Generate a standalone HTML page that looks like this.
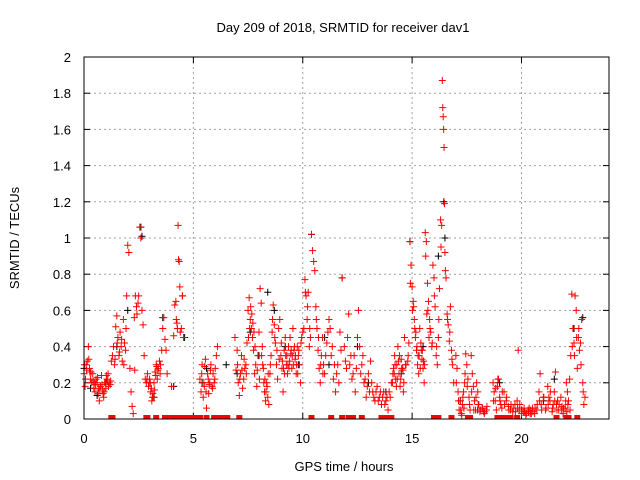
<!DOCTYPE html>
<html><head><meta charset="utf-8"><style>
body{margin:0;background:#fff}
svg{display:block;font-family:"Liberation Sans",sans-serif}
</style></head><body>
<svg id="chart" width="640" height="480" viewBox="0 0 640 480">
<text x="343" y="32" font-size="13" text-anchor="middle" fill="#000">Day 209 of 2018, SRMTID for receiver dav1</text>
<text x="344" y="471" font-size="13" text-anchor="middle" fill="#000">GPS time / hours</text>
<text transform="translate(19,238) rotate(-90)" font-size="13" text-anchor="middle" fill="#000">SRMTID / TECUs</text>
<g id="grid"></g>
<g id="ticks"></g>
<g id="black"></g>
<g id="red"></g>
<rect x="84" y="57" width="525" height="362" fill="none" stroke="#000" stroke-width="1"/>
</svg>
<script>
const xTicks=[0,5,10,15,20];
const yTicks=[0,0.2,0.4,0.6,0.8,1,1.2,1.4,1.6,1.8,2];
const yTickLabels=["0","0.2","0.4","0.6","0.8","1","1.2","1.4","1.6","1.8","2"];
const redT=[0,0.05,0.1,0.15,0.2,0.25,0.3,0.35,0.4,0.45,0.5,0.55,0.6,0.65,0.7,0.75,0.8,0.85,0.9,0.95,1.0,1.05,1.1,1.15,1.2,1.25,
1.3,1.35,1.4,1.45,1.5,1.55,1.6,1.65,1.7,1.75,1.8,1.85,1.9,1.95,2.0,2.05,2.1,2.15,2.2,2.25,2.3,2.35,2.4,2.5,2.55,2.6,2.65,2.7,2.75,2.8,
2.85,2.9,2.95,3.0,3.05,3.1,3.15,3.2,3.25,3.3,3.35,3.4,3.45,3.5,3.55,3.6,3.65,3.7,3.75,3.8,
4.0,4.1,4.15,4.2,4.25,4.3,4.32,4.35,4.38,4.4,4.45,4.5,4.55,
5.3,5.35,5.4,5.45,5.5,5.55,5.6,5.65,5.7,5.75,5.8,5.85,5.9,5.95,6.0,6.05,6.1,
6.9,6.95,7.0,7.05,7.1,7.15,7.2,7.25,7.3,7.35,7.4,7.45,7.5,7.55,7.6,7.65,7.7,7.75,7.8,7.85,7.9,7.95,8.0,8.05,8.1,8.15,8.2,8.25,8.3,8.35,8.4,8.45,8.5,8.55,8.6,8.65,8.7,8.75,8.8,8.85,8.9,8.95,9.0,9.05,9.1,9.15,9.2,9.25,9.3,9.35,9.4,9.45,9.5,9.55,9.6,9.65,9.7,9.75,9.8,9.85,9.9,9.95,10.0,10.05,
10.1,10.15,10.2,10.25,10.3,10.35,10.4,10.45,10.5,10.55,10.6,10.65,10.7,10.75,10.8,10.85,10.9,10.95,11.0,11.1,11.2,11.25,11.3,11.4,11.5,11.6,11.7,11.8,11.9,12.0,12.1,12.2,12.3,12.4,12.5,12.55,12.6,12.7,12.8,12.9,13.0,13.1,13.2,13.3,13.4,13.5,13.6,13.7,13.8,13.9,14.0,14.1,14.15,14.2,14.25,14.3,14.35,14.4,14.45,14.5,14.55,14.6,14.65,14.7,
14.8,14.85,14.9,14.95,15.0,15.05,15.1,15.15,15.2,15.25,15.3,15.35,15.4,15.45,15.5,15.55,15.6,15.65,15.7,15.75,15.8,15.85,15.9,15.95,16.0,16.05,16.1,16.15,16.2,16.25,16.3,16.35,16.38,16.4,16.42,16.44,16.46,16.48,16.5,16.55,16.6,16.65,16.7,16.75,16.8,16.85,
16.9,17.0,17.05,17.1,17.15,17.2,17.25,17.3,17.35,17.4,17.45,17.5,17.55,17.6,17.65,17.7,17.75,17.8,17.85,17.9,17.95,18.0,18.05,18.1,18.2,18.3,18.4,
18.7,18.75,18.8,18.85,18.9,18.95,19.0,19.05,19.1,19.2,19.3,19.4,19.5,19.6,19.7,19.8,19.85,19.9,20.0,20.1,20.2,20.3,20.4,20.5,20.6,
20.7,20.8,20.85,20.9,21.0,21.1,21.2,21.3,21.4,21.5,21.55,21.6,21.7,21.8,21.9,22.0,22.05,22.1,22.15,22.2,22.25,22.3,22.35,22.4,22.45,22.5,22.55,22.6,22.65,22.7,22.75,22.8,22.85,22.9];
const redV=[0.25,0.18,0.3,0.32,0.4,0.28,0.22,0.2,0.25,0.17,0.15,0.22,0.2,0.14,0.1,0.18,0.24,0.16,0.12,0.2,0.17,0.22,0.25,0.2,0.19,0.32,
0.35,0.4,0.3,0.51,0.57,0.45,0.35,0.48,0.4,0.32,0.55,0.42,0.38,0.68,0.96,0.92,0.28,0.15,0.07,0.03,0.56,0.68,0.62,0.68,1.06,1.0,0.6,0.52,0.35,0.22,
0.2,0.25,0.18,0.22,0.15,0.1,0.14,0.2,0.26,0.3,0.22,0.28,0.32,0.3,0.38,0.5,0.56,0.44,0.38,0.25,
0.18,0.46,0.63,0.65,0.53,1.07,0.88,0.87,0.73,0.48,0.5,0.68,0.45,
0.22,0.15,0.3,0.12,0.18,0.33,0.06,0.25,0.14,0.2,0.3,0.18,0.25,0.2,0.28,0.35,0.4,
0.45,0.27,0.38,0.2,0.13,0.25,0.35,0.17,0.22,0.28,0.3,0.42,0.6,0.67,0.55,0.5,0.45,0.38,0.25,0.3,0.18,0.35,0.48,0.72,0.64,0.4,0.28,0.15,0.1,0.2,0.12,0.08,0.25,0.35,0.48,0.63,0.52,0.42,0.3,0.22,0.5,0.55,0.35,0.28,0.15,0.38,0.45,0.3,0.25,0.4,0.32,0.36,0.28,0.5,0.38,0.33,0.25,0.4,0.35,0.3,0.2,0.45,0.48,0.5,
0.77,0.68,0.55,0.7,0.4,0.45,1.02,0.93,0.87,0.82,0.62,0.5,0.38,0.28,0.2,0.35,0.45,0.3,0.25,0.42,0.55,0.5,0.35,0.22,0.15,0.3,0.48,0.78,0.4,0.28,0.58,0.35,0.25,0.15,0.45,0.6,0.4,0.3,0.2,0.12,0.25,0.32,0.15,0.1,0.18,0.12,0.08,0.15,0.1,0.05,0.12,0.2,0.28,0.35,0.22,0.3,0.4,0.25,0.18,0.33,0.28,0.15,0.45,0.3,
0.32,0.42,0.98,0.85,0.73,0.65,0.55,0.45,0.38,0.3,0.25,0.5,0.42,0.33,0.28,0.2,1.03,0.98,0.75,0.65,0.55,0.48,0.4,0.85,0.78,0.62,0.35,0.3,0.45,0.72,1.1,1.07,1.87,1.72,1.67,1.6,1.5,1.19,0.92,0.78,0.58,0.52,0.43,0.62,0.38,0.3,
0.2,0.35,0.28,0.15,0.05,0.1,0.03,0.08,0.15,0.2,0.36,0.3,0.22,0.12,0.05,0.35,0.25,0.18,0.1,0.05,0.2,0.15,0.08,0.04,0.06,0.03,0.05,
0.2,0.15,0.1,0.05,0.18,0.22,0.12,0.08,0.06,0.15,0.1,0.07,0.05,0.04,0.08,0.1,0.38,0.05,0.03,0.04,0.02,0.05,0.03,0.06,0.03,
0.05,0.15,0.25,0.08,0.12,0.05,0.18,0.1,0.04,0.15,0.26,0.08,0.05,0.12,0.03,0.06,0.2,0.15,0.1,0.22,0.35,0.69,0.5,0.42,0.68,0.6,0.28,0.45,0.38,0.42,0.55,0.2,0.08,0.12];
const redT2=[0.02,0.12,0.22,0.32,0.42,0.52,0.62,0.72,0.82,0.92,1.02,1.12,1.22,0.07,0.27,0.47,0.67,0.87,1.07,
1.42,1.52,1.62,1.72,1.82,1.92,2.32,2.42,2.47,2.88,2.98,3.08,3.18,3.28,3.38,3.48,3.03,3.13,3.23,3.33,4.22,4.27,5.38,5.48,5.58,5.68,5.78,5.88,5.98,5.52,5.72,
7.02,7.12,7.22,7.32,7.42,7.52,7.62,7.72,7.82,7.92,8.02,8.12,8.22,8.32,8.42,8.52,8.62,8.72,8.82,8.92,9.02,9.12,9.22,9.32,9.42,9.52,9.62,9.72,9.82,9.92,7.57,7.67,7.77,8.17,8.27,8.37,9.07,9.17,9.27,9.37,9.47,9.57,9.67,9.77,
10.12,10.22,10.32,10.62,10.72,10.82,10.92,11.05,11.15,11.35,11.45,11.55,11.65,11.75,11.95,12.05,12.15,12.25,12.35,12.45,12.65,12.75,12.85,12.95,13.05,13.15,13.25,13.35,13.45,13.55,13.65,13.75,13.85,13.95,14.05,14.12,14.22,14.32,14.42,14.52,14.62,14.72,14.18,14.28,14.38,14.48,14.58,
14.82,14.92,15.02,15.12,15.22,15.32,15.42,15.52,15.62,15.72,15.82,15.92,16.02,16.12,16.22,16.32,16.52,16.62,16.72,16.82,15.07,15.17,15.27,15.37,15.47,15.57,15.67,15.77,
17.02,17.12,17.22,17.32,17.42,17.52,17.62,17.72,17.82,17.92,18.02,18.12,18.22,18.32,18.42,17.27,17.37,18.27,
18.72,18.82,18.92,19.02,19.12,19.22,19.32,19.42,19.52,19.62,19.72,19.82,19.92,20.02,20.12,20.22,20.32,20.42,20.52,20.62,20.15,20.35,20.45,
20.72,20.82,20.92,21.02,21.12,21.22,21.32,21.42,21.52,21.62,21.72,21.82,21.92,22.02,22.12,22.22,22.32,22.42,22.52,22.62,22.72,22.82,21.25,21.45,21.65,21.85,22.07];
const redV2=[0.3,0.27,0.33,0.26,0.21,0.19,0.23,0.16,0.19,0.15,0.24,0.18,0.21,0.22,0.26,0.2,0.17,0.14,0.21,
0.33,0.42,0.37,0.44,0.3,0.5,0.27,0.58,0.64,0.22,0.2,0.17,0.12,0.24,0.27,0.25,0.2,0.12,0.16,0.29,0.55,0.5,0.25,0.2,0.15,0.22,0.27,0.17,0.22,0.29,0.19,
0.3,0.22,0.27,0.33,0.25,0.45,0.62,0.53,0.4,0.27,0.22,0.35,0.2,0.15,0.25,0.3,0.55,0.45,0.38,0.33,0.42,0.28,0.35,0.3,0.45,0.35,0.4,0.3,0.38,0.42,0.5,0.58,0.48,0.3,0.22,0.18,0.32,0.25,0.35,0.28,0.38,0.3,0.35,0.25,
0.7,0.62,0.5,0.55,0.45,0.3,0.25,0.35,0.48,0.4,0.3,0.25,0.2,0.38,0.32,0.45,0.3,0.22,0.35,0.28,0.25,0.35,0.22,0.18,0.15,0.2,0.12,0.15,0.1,0.15,0.12,0.08,0.12,0.15,0.2,0.25,0.3,0.22,0.35,0.28,0.2,0.3,0.25,0.18,0.32,0.22,0.27,
0.35,0.75,0.6,0.5,0.4,0.35,0.38,0.32,0.9,0.6,0.5,0.42,0.68,0.4,0.55,0.95,0.82,0.55,0.48,0.33,0.62,0.48,0.35,0.28,0.38,0.3,0.58,0.45,
0.2,0.1,0.05,0.12,0.25,0.18,0.08,0.15,0.05,0.12,0.08,0.05,0.06,0.04,0.07,0.02,0.06,0.04,
0.1,0.17,0.22,0.1,0.15,0.08,0.12,0.05,0.08,0.06,0.04,0.06,0.08,0.05,0.06,0.03,0.04,0.05,0.04,0.06,0.04,0.06,0.03,
0.08,0.1,0.05,0.12,0.06,0.08,0.15,0.06,0.1,0.05,0.08,0.05,0.06,0.1,0.08,0.05,0.4,0.35,0.45,0.5,0.3,0.15,0.12,0.08,0.1,0.07,0.04];
const blackT=[0.0,0.3,0.6,1.0,1.5,2.0,2.6,2.65,3.2,3.6,4.1,4.5,4.6,5.4,5.6,6.5,7.0,7.6,8.0,8.4,8.7,9.2,9.8,10.4,11.0,11.2,11.8,12.5,13.0,13.8,14.5,14.9,15.5,16.2,16.45,16.5,17.2,18.0,19.0,20.0,21.0,21.5,22.4,22.8];
const blackV=[0.28,0.17,0.13,0.2,0.4,0.6,1.06,1.01,0.12,0.56,0.18,0.68,0.45,0.2,0.28,0.3,0.25,0.48,0.35,0.7,0.6,0.4,0.3,1.02,0.45,0.3,0.78,0.4,0.2,0.15,0.25,0.98,0.4,0.9,1.2,1.0,0.1,0.05,0.2,0.05,0.1,0.22,0.5,0.56];
const zeroT=[1.25,1.3,2.85,2.9,3.3,3.7,3.8,3.9,4.0,4.2,4.4,4.5,4.6,4.7,4.8,4.9,5.0,5.1,5.2,5.3,5.6,5.95,6.05,6.15,6.25,6.35,6.45,6.55,7.1,10.4,11.3,11.8,12.1,12.3,12.7,13.6,13.75,13.9,14.05,16.0,16.1,16.2,16.8,17.55,17.65,18.9,19.0,19.1,19.2,19.3,19.4,19.5,19.8,21.6,22.05,22.15,22.55];

const X0=84,X1=609,Y0=419,Y1=57,XMAX=24,YMAX=2;
const xs=t=>X0+(X1-X0)*t/XMAX;
const ys=v=>Y0-(Y0-Y1)*v/YMAX;
const NS='http://www.w3.org/2000/svg';
function mk(tag,attrs,parent){const e=document.createElementNS(NS,tag);for(const k in attrs)e.setAttribute(k,attrs[k]);parent.appendChild(e);return e;}
const grid=document.getElementById('grid'),ticks=document.getElementById('ticks');
xTicks.forEach((t,i)=>{
  const x=xs(t);
  if(t>0){const g=mk('line',{x1:x,x2:x,y1:Y1,y2:Y0,stroke:'#a0a0a0','stroke-dasharray':'2,3'},grid);
  
  }
  mk('line',{x1:x,x2:x,y1:Y0,y2:Y0-6,stroke:'#000'},ticks);
  mk('line',{x1:x,x2:x,y1:Y1,y2:Y1+6,stroke:'#000'},ticks);
  const l=mk('text',{x:x,y:443,'font-size':13,'text-anchor':'middle'},ticks);
  l.textContent=String(t);
  
  
});
yTicks.forEach((v,i)=>{
  const y=ys(v);
  if(v>0&&v<2){const g=mk('line',{x1:X0,x2:X1,y1:y,y2:y,stroke:'#a0a0a0','stroke-dasharray':'2,3'},grid);
  
  }
  mk('line',{x1:X0,x2:X0+6,y1:y,y2:y,stroke:'#000'},ticks);
  mk('line',{x1:X1,x2:X1-6,y1:y,y2:y,stroke:'#000'},ticks);
  const l=mk('text',{x:71,y:y+5,'font-size':13,'text-anchor':'end'},ticks);
  l.textContent=yTickLabels[i];
  
  
});
function plus(g,t,v,col){
  const x=xs(t),y=ys(v);
  const p=mk('path',{d:`M${x-3.5} ${y}H${x+3.5}M${x} ${y-3.5}V${y+3.5}`,stroke:col,'stroke-width':1,fill:'none'},g);
  
  
}
const bg=document.getElementById('black'),rg=document.getElementById('red');
blackT.forEach((t,i)=>plus(bg,t,blackV[i],'#000'));
redT.forEach((t,i)=>plus(rg,t,redV[i],'#ff0000'));
redT2.forEach((t,i)=>plus(rg,t,redV2[i],'#ff0000'));
zeroT.forEach(t=>{
  const r=mk('rect',{x:xs(t)-3,y:Y0-4,width:6,height:4,fill:'#ff0000'},rg);
  
  
});
</script>
</body></html>
